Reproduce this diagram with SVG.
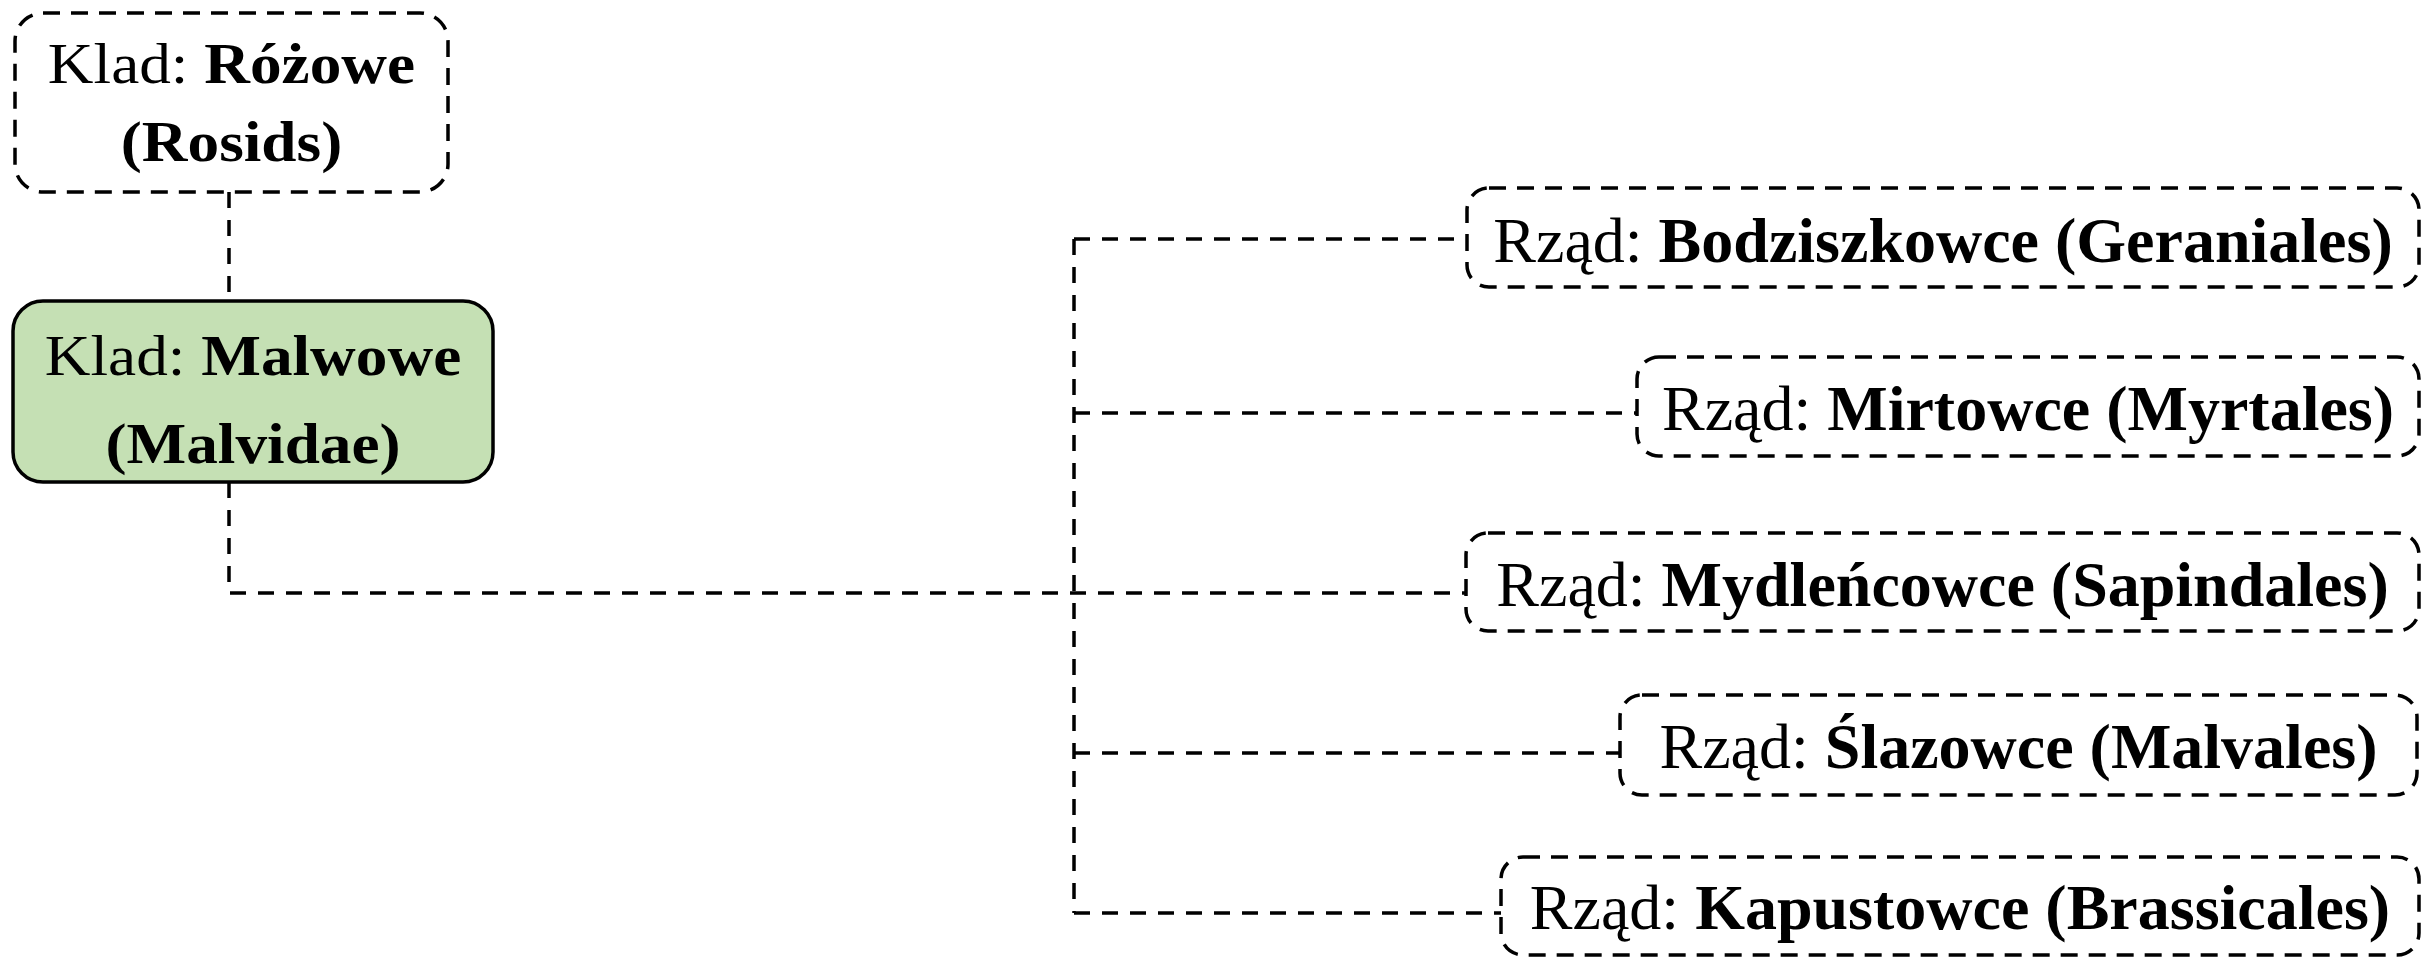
<svg xmlns="http://www.w3.org/2000/svg" width="2427" height="957" viewBox="0 0 2427 957">
<style>
.bg{fill:#ffffff}
.dbox{fill:#ffffff;stroke:#000;stroke-width:3.5;stroke-dasharray:17 11}
.gbox{fill:#c5e0b4;stroke:#000;stroke-width:3.5}
.conn{fill:none;stroke:#000;stroke-width:3.5;stroke-dasharray:16 12}
.t{font-family:"Liberation Serif","Times New Roman",serif;fill:#000;text-anchor:middle}
.tl{font-size:56px}
.tr{font-size:64px}
.b{font-weight:bold}
</style>
<rect class="bg" x="0" y="0" width="2427" height="957"/>
<g id="connectors">
<path class="conn" d="M229 192 V301"/>
<path class="conn" d="M229 482 V593 H1466"/>
<path class="conn" d="M1074 239 V913"/>
<path class="conn" d="M1074 239 H1467"/>
<path class="conn" d="M1074 413 H1637"/>
<path class="conn" d="M1074 753 H1620"/>
<path class="conn" d="M1074 913 H1501"/>
</g>
<g id="node-rosids">
<rect class="dbox" x="15" y="13" width="433" height="179" rx="28"/>
<g transform="translate(231.5,0) scale(1.13,1)">
<text class="t tl" x="0" y="83">Klad: <tspan class="b">Różowe</tspan></text>
<text class="t tl b" x="0" y="161">(Rosids)</text>
</g>
</g>
<g id="node-malvidae">
<rect class="gbox" x="13" y="301" width="480" height="181" rx="30"/>
<g transform="translate(253,0) scale(1.13,1)">
<text class="t tl" x="0" y="375">Klad: <tspan class="b">Malwowe</tspan></text>
<text class="t tl b" x="0" y="463">(Malvidae)</text>
</g>
</g>
<g id="node-geraniales">
<rect class="dbox" x="1467" y="188" width="952" height="99" rx="22"/>
<text class="t tr" x="1943" y="262">Rząd: <tspan class="b">Bodziszkowce (Geraniales)</tspan></text>
</g>
<g id="node-myrtales">
<rect class="dbox" x="1637" y="357" width="782" height="99" rx="22"/>
<text class="t tr" x="2028" y="430">Rząd: <tspan class="b">Mirtowce (Myrtales)</tspan></text>
</g>
<g id="node-sapindales">
<rect class="dbox" x="1466" y="533" width="953" height="98" rx="22"/>
<text class="t tr" x="1942.5" y="606">Rząd: <tspan class="b">Mydleńcowce (Sapindales)</tspan></text>
</g>
<g id="node-malvales">
<rect class="dbox" x="1620" y="695" width="797" height="100" rx="22"/>
<text class="t tr" x="2018.5" y="768">Rząd: <tspan class="b">Ślazowce (Malvales)</tspan></text>
</g>
<g id="node-brassicales">
<rect class="dbox" x="1501" y="857" width="918" height="98" rx="22"/>
<text class="t tr" x="1960" y="929">Rząd: <tspan class="b">Kapustowce (Brassicales)</tspan></text>
</g>
</svg>
